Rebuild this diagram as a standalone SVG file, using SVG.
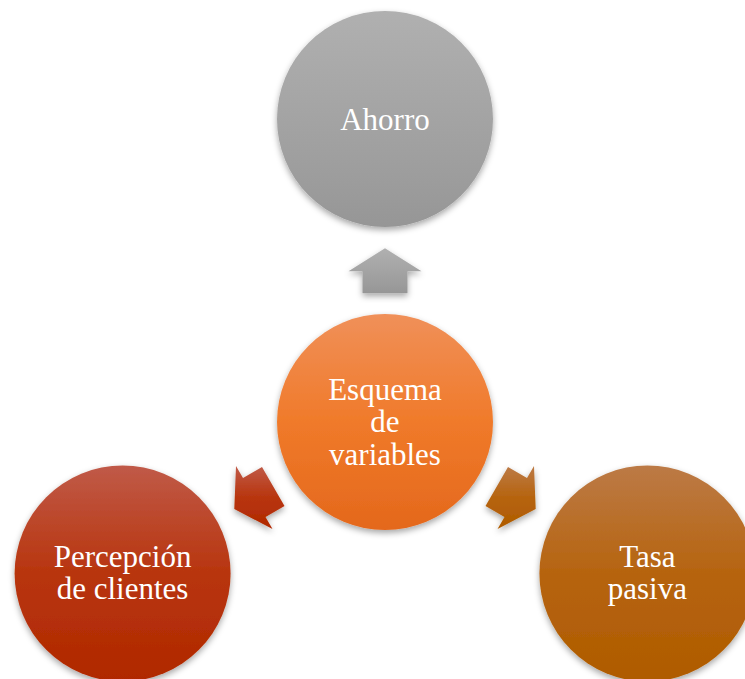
<svg xmlns="http://www.w3.org/2000/svg" width="745" height="679" viewBox="0 0 745 679">
<defs>
<linearGradient id="gGray" x1="0" y1="0" x2="0" y2="1">
<stop offset="0" stop-color="#b0b0b0"/><stop offset="0.8" stop-color="#9c9c9c"/><stop offset="1" stop-color="#969696"/>
</linearGradient>
<linearGradient id="gOrange" x1="0" y1="0" x2="0" y2="1">
<stop offset="0" stop-color="#f09059"/><stop offset="0.5" stop-color="#f07a2a"/><stop offset="1" stop-color="#e4681c"/>
</linearGradient>
<linearGradient id="gRed" x1="0" y1="0" x2="0" y2="1">
<stop offset="0" stop-color="#c05a48"/><stop offset="0.5" stop-color="#b8350e"/><stop offset="1" stop-color="#b02800"/>
</linearGradient>
<linearGradient id="gBrown" x1="0" y1="0" x2="0" y2="1">
<stop offset="0" stop-color="#bc7a46"/><stop offset="0.5" stop-color="#b6640f"/><stop offset="1" stop-color="#af5b00"/>
</linearGradient>
<filter id="sh" x="-20%" y="-20%" width="140%" height="140%">
<feDropShadow dx="0" dy="3" stdDeviation="3" flood-color="#000" flood-opacity="0.35"/>
</filter>
</defs>
<style>
.node circle{filter:url(#sh)}
.lbl{font-family:"Liberation Serif","Times New Roman",serif;font-size:31px;fill:#ffffff;text-anchor:middle}
.arr{filter:url(#sh)}
</style>
<g id="connectors">
<polygon class="arr" fill="url(#gGray)" points="385,248.25 421.5,271.25 407.5,271.25 407.5,293.25 362.5,293.25 362.5,271.25 348.5,271.25"/>
<polygon class="arr" fill="url(#gRed)" points="234.3,509 236,465.9 243,478 262,467 284.5,506 265.5,517 272.5,529.1"/>
<polygon class="arr" fill="url(#gBrown)" points="535.7,509 534,465.9 527,478 508,467 485.5,506 504.5,517 497.5,529.1"/>
</g>
<g id="node-ahorro" class="node">
<circle cx="385" cy="119" r="108" fill="url(#gGray)"/>
<text class="lbl" x="385" y="129.5">Ahorro</text>
</g>
<g id="node-esquema" class="node">
<circle cx="385" cy="422" r="108" fill="url(#gOrange)"/>
<text class="lbl" x="385" y="399.5">Esquema</text>
<text class="lbl" x="385" y="432">de</text>
<text class="lbl" x="385" y="464.5">variables</text>
</g>
<g id="node-percepcion" class="node">
<circle cx="122.6" cy="573.5" r="108" fill="url(#gRed)"/>
<text class="lbl" x="122.6" y="566.5">Percepción</text>
<text class="lbl" x="122.6" y="599">de clientes</text>
</g>
<g id="node-tasa" class="node">
<circle cx="647.4" cy="573.5" r="108" fill="url(#gBrown)"/>
<text class="lbl" x="647.4" y="566.5">Tasa</text>
<text class="lbl" x="647.4" y="599">pasiva</text>
</g>
</svg>
